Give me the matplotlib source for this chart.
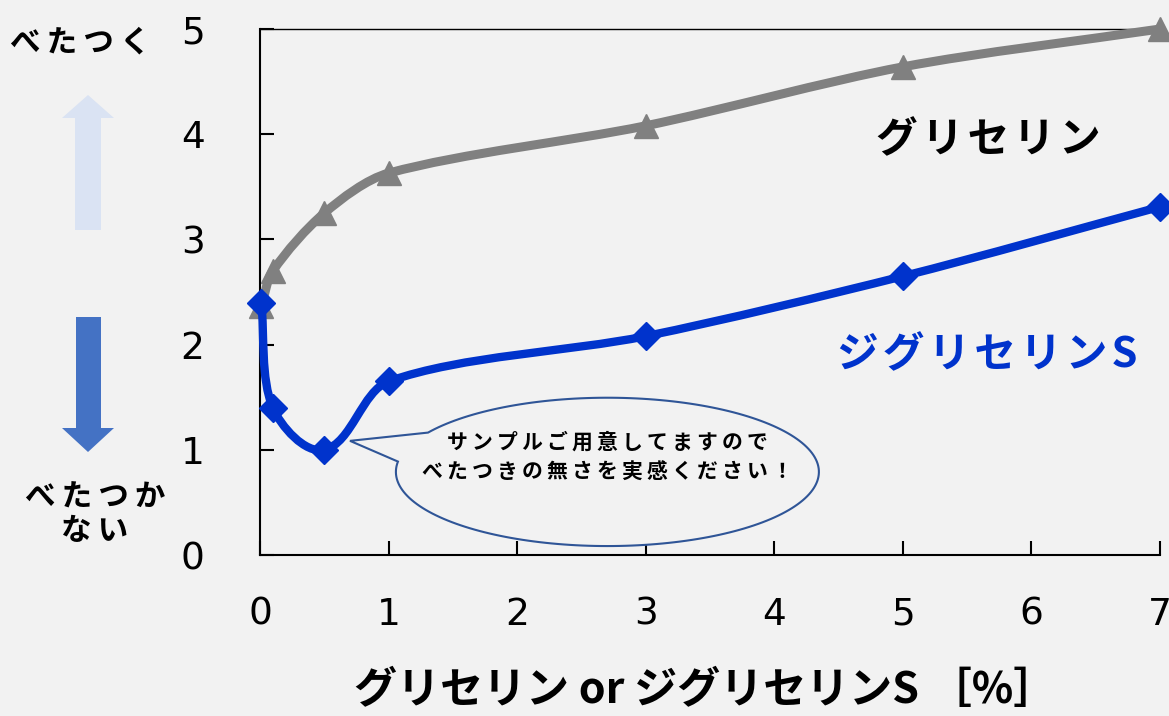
import numpy as np
import matplotlib
matplotlib.use("Agg")
import matplotlib.pyplot as plt
from matplotlib.path import Path
from matplotlib.patches import PathPatch, Polygon

# data
conc_gly = [0.01, 0.1, 0.5, 1, 3, 5, 7]
sticky_gly = [2.37, 2.70, 3.25, 3.63, 4.08, 4.64, 5.0]
conc_dig = [0.01, 0.1, 0.5, 1, 3, 5, 7]
sticky_dig = [2.40, 1.40, 1.00, 1.65, 2.08, 2.65, 3.31]
x_ticks = [0, 1, 2, 3, 4, 5, 6, 7]
y_ticks = [0, 1, 2, 3, 4, 5]

JP = ['Noto Sans CJK JP', 'DejaVu Sans']
BG = "#F2F2F2"
GRAY = "#808080"
BLUE = "#0033CC"

W, H = 1169, 716
AX_L, AX_T, AX_R, AX_B = 260, 29, 1160, 555


def px(x, y):
    # pixel position (from top-left) -> figure fraction
    return (x / W, 1 - y / H)


def spaced(s, sep="\u2009"):
    # excel-like letter spacing
    return sep.join(s)


def smooth_path(xs, ys, k=0.3):
    # smoothed line as cubic bezier segments, tangents in screen scale
    sx = (AX_R - AX_L) / 7.0
    sy = (AX_B - AX_T) / 5.0
    pts = np.column_stack([np.asarray(xs) * sx, np.asarray(ys) * sy])
    n = len(pts)
    tang = []
    for i in range(n):
        a = pts[max(i - 1, 0)]
        b = pts[min(i + 1, n - 1)]
        d = b - a
        tang.append(d / np.hypot(*d))
    verts = [pts[0]]
    codes = [Path.MOVETO]
    for i in range(n - 1):
        L = np.hypot(*(pts[i + 1] - pts[i]))
        c1 = pts[i] + tang[i] * L * k
        c2 = pts[i + 1] - tang[i + 1] * L * k
        verts += [c1, c2, pts[i + 1]]
        codes += [Path.CURVE4] * 3
    verts = np.array(verts) / np.array([sx, sy])
    return Path(verts, codes)


fig = plt.figure(figsize=(W / 100, H / 100), dpi=100, facecolor=BG)
ax = fig.add_axes([AX_L / W, 1 - AX_B / H, (AX_R - AX_L) / W, (AX_B - AX_T) / H],
                  facecolor=BG)

ax.set_xlim(0, 7)
ax.set_ylim(0, 5)

# glycerin
ax.add_patch(PathPatch(smooth_path(conc_gly, sticky_gly), fc="none", ec=GRAY,
                       lw=6.5, capstyle="round", zorder=3, clip_on=False))
ax.plot(conc_gly, sticky_gly, ls="none", marker="^", ms=17, color=GRAY,
        zorder=4, clip_on=False)

# diglycerin S
ax.add_patch(PathPatch(smooth_path(conc_dig, sticky_dig), fc="none", ec=BLUE,
                       lw=6, capstyle="round", zorder=5, clip_on=False))
ax.plot(conc_dig, sticky_dig, ls="none", marker="D", ms=14, color=BLUE,
        zorder=6, clip_on=False)

ax.set_xticks(x_ticks)
ax.set_yticks(y_ticks)
ax.tick_params(direction="in", length=10, width=1.5, labelsize=27,
               colors="black")
ax.tick_params(axis="x", pad=30)
ax.tick_params(axis="y", pad=40)
ax.spines["right"].set_visible(False)
for s in ["left", "bottom", "top"]:
    ax.spines[s].set_linewidth(1.5)
    ax.spines[s].set_color("black")
ax.spines["top"].set_linewidth(1.0)

# series labels
fig.text(*px(988, 140), spaced("グリセリン", "\u200a"), family=JP, fontsize=30,
         fontweight="bold", color="black", ha="center", va="center")
fig.text(*px(987, 355), spaced("ジグリセリンS", "\u200a"), family=JP,
         fontsize=30, fontweight="bold", color=BLUE, ha="center",
         va="center")

# x label
fig.text(*px(705, 690), "グリセリン or ジグリセリンS ［%］", family=JP,
         fontsize=31, fontweight="bold", ha="center", va="center")

# callout balloon (axes fraction)
cx, cy, a, b = 0.386, 0.158, 0.235, 0.141
th1, th2 = np.deg2rad(148), np.deg2rad(172)
ang = np.linspace(th2, th1 + 2 * np.pi, 200)
balloon = [(cx + a * np.cos(q), cy + b * np.sin(q)) for q in ang]
balloon.append((0.10, 0.217))
ax.add_patch(Polygon(balloon, closed=True, transform=ax.transAxes,
                     fc=BG, ec="#2F5597", lw=1.5, zorder=7))
ax.text(cx, 0.215, spaced("サンプルご用意してますので"), transform=ax.transAxes,
        family=JP, fontsize=15, fontweight="bold", ha="center",
        va="center", zorder=8)
ax.text(cx, 0.158, spaced("べたつきの無さを実感ください！"), transform=ax.transAxes,
        family=JP, fontsize=15, fontweight="bold", ha="center",
        va="center", zorder=8)

# left side arrows and labels
up = [px(62, 118), px(88, 95), px(114, 118), px(101, 118), px(101, 230),
      px(75, 230), px(75, 118)]
fig.add_artist(Polygon(up, closed=True, fc="#DAE3F3", ec="none"))
down = [px(76, 317), px(101, 317), px(101, 428), px(114, 428), px(88, 452),
        px(62, 428), px(76, 428)]
fig.add_artist(Polygon(down, closed=True, fc="#4472C4", ec="none"))

fig.text(*px(80, 42), spaced("べたつく"), family=JP, fontsize=22,
         fontweight="bold", ha="center", va="center")
fig.text(*px(95, 514), spaced("べたつか") + "\n" + spaced("ない"), family=JP,
         fontsize=22, fontweight="bold", ha="center", va="center",
         linespacing=1.05)

fig.savefig("out.png", dpi=100, facecolor=BG)
